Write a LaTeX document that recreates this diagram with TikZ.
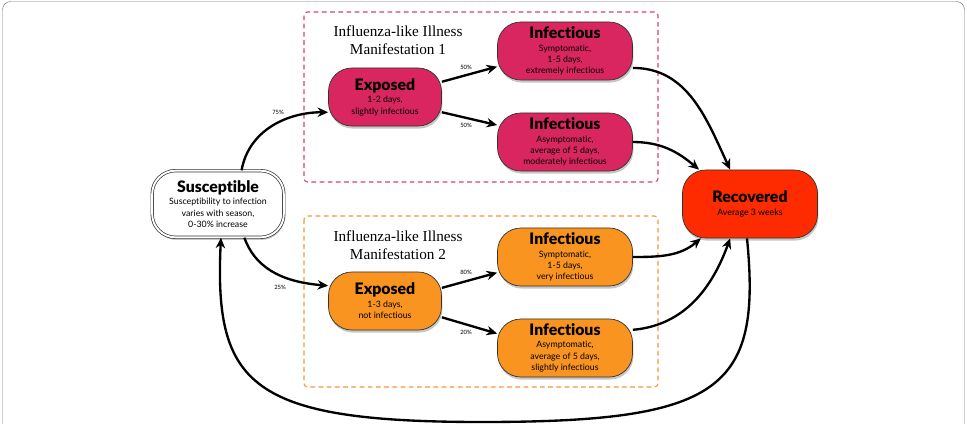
\documentclass[tikz,border=0pt]{standalone}
\usepackage{fontspec}
\setmainfont{Lato}[Ligatures=NoCommon]
\newfontfamily\heavyfont{Lato Black}[Ligatures=NoCommon]
\newfontfamily\grpfont{Liberation Serif}
\usetikzlibrary{arrows.meta,shadows}

\definecolor{flupink}{HTML}{D92660}
\definecolor{fluorange}{HTML}{F8941F}
\definecolor{recred}{HTML}{FF2B00}
\definecolor{pinkdash}{HTML}{DB3F73}
\definecolor{orangedash}{HTML}{F2953D}

\tikzset{
  state/.style={draw=black!80, semithick, rounded corners=0.7cm, align=center,
    minimum width=4.05cm, minimum height=1.74cm, inner sep=1pt,
    font=\fontsize{7.5}{9.8}\selectfont,
    drop shadow={opacity=0.45, shadow xshift=0.8pt, shadow yshift=-2.2pt}},
  exposed/.style={state, minimum width=3.39cm},
  flow/.style={line width=2pt, -{Stealth[length=9pt,width=8pt]}},
  pct/.style={font=\fontsize{5}{6}\selectfont, inner sep=0pt},
  grouptitle/.style={align=center, font=\grpfont\fontsize{13}{15}\selectfont, inner sep=0pt},
  groupbox/.style={line width=0.9pt, rounded corners=3pt, dash pattern=on 4pt off 3pt}
}
\newcommand{\statettl}[1]{{\heavyfont\fontsize{13.5}{15}\selectfont #1}\\[1pt]}

\begin{document}
\begin{tikzpicture}[x=0.03cm,y=-0.03cm]
\useasboundingbox (0,0) rectangle (967,424);
\draw[black!55, rounded corners=7pt] (2.5,440) -- (2.5,1.5) -- (964.5,1.5) -- (964.5,440);

\draw[groupbox, draw=pinkdash] (304,12) rectangle (658,182);
\draw[groupbox, draw=orangedash] (304,216) rectangle (658,387);
\node[grouptitle] (title1) at (398,40) {Influenza-like Illness\\Manifestation 1};
\node[grouptitle] (title2) at (398,245) {Influenza-like Illness\\Manifestation 2};

\node[state, fill=white, double=white, double distance=1.6pt, minimum width=3.95cm, minimum height=2.0cm] (sus) at (218,204)
  {\statettl{Susceptible}Susceptibility to infection\\varies with season,\\0-30\% increase};
\node[exposed, fill=flupink] (exp1) at (385,97) {\statettl{Exposed}1-2 days,\\slightly infectious};
\node[state, fill=flupink] (inf1a) at (565,51) {\statettl{Infectious}Symptomatic,\\1-5 days,\\extremely infectious};
\node[state, fill=flupink] (inf1b) at (565,142) {\statettl{Infectious}Asymptomatic,\\average of 5 days,\\moderately infectious};
\node[exposed, fill=fluorange] (exp2) at (385,301) {\statettl{Exposed}1-3 days,\\not infectious};
\node[state, fill=fluorange] (inf2a) at (565,257) {\statettl{Infectious}Symptomatic,\\1-5 days,\\very infectious};
\node[state, fill=fluorange] (inf2b) at (565,348) {\statettl{Infectious}Asymptomatic,\\average of 5 days,\\slightly infectious};
\node[state, fill=recred, minimum height=2.04cm] (rec) at (750,204) {\statettl{Recovered}Average 3 weeks};

\draw[flow] (sus.55) to[out=80,in=180] (exp1.-165);
\draw[flow] (sus.-52) to[out=-70,in=175] (exp2.165);
\draw[flow] (exp1.15) -- (inf1a.193);
\draw[flow] (exp1.-15) -- (inf1b.166);
\draw[flow] (exp2.13) -- (inf2a.193);
\draw[flow] (exp2.-16) -- (inf2b.168);
\draw[flow] (inf1a.-14) to[out=0,in=115] (rec.120);
\draw[flow] (inf1b.east) to[out=0,in=140] (rec.146);
\draw[flow] (inf2a.east) to[out=0,in=-140] (rec.-145);
\draw[flow] (inf2b.15) to[out=5,in=-110] (rec.-120);
\draw[flow] (rec.-95) .. controls (762,390) and (720,422) .. (482,422) .. controls (250,422) and (214,385) .. (sus.-85);

\node[pct] (p75) at (278,112) {75\%};
\node[pct] (p25) at (280,287) {25\%};
\node[pct] (p50a) at (466,67) {50\%};
\node[pct] (p50b) at (466,125) {50\%};
\node[pct] (p80) at (466,272) {80\%};
\node[pct] (p20) at (466,332) {20\%};
\end{tikzpicture}
\end{document}
